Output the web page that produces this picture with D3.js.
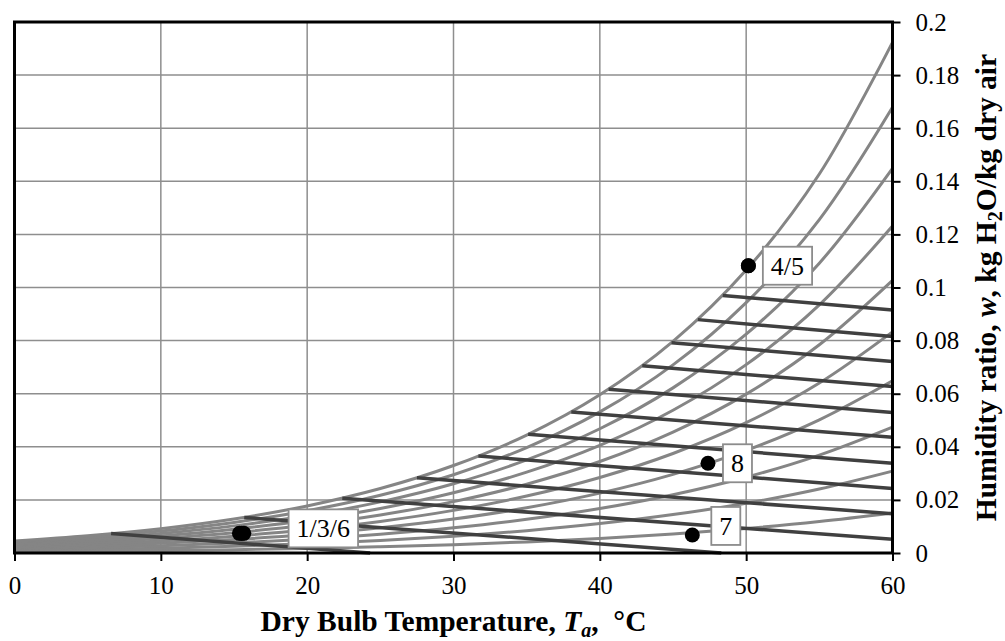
<!DOCTYPE html>
<html>
<head>
<meta charset="utf-8">
<script src="https://cdn.jsdelivr.net/npm/d3@7"></script>
<style>
  body { margin: 0; background: #fff; }
  svg text { font-family: "Liberation Serif", "Times New Roman", serif; fill: #000; }
</style>
</head>
<body>
<script>
// Dry bulb temperatures (°C) where the relative humidity curves were read
var tempSteps = [0, 5, 10, 15, 20, 25, 30, 35, 40, 45, 50, 55, 60];

// Relative humidity curves, 10 % ... 100 % (kg H2O / kg dry air)
var rhLevels = [10, 20, 30, 40, 50, 60, 70, 80, 90, 100];
var rh10  = [0.00045, 0.00064, 0.00091, 0.00126, 0.00173, 0.00234, 0.00315, 0.00418, 0.00549, 0.00715, 0.00923, 0.01183, 0.01505];
var rh20  = [0.00090, 0.00129, 0.00182, 0.00252, 0.00347, 0.00471, 0.00632, 0.00841, 0.01107, 0.01446, 0.01874, 0.02412, 0.03084];
var rh30  = [0.00135, 0.00194, 0.00273, 0.00379, 0.00521, 0.00709, 0.00953, 0.01269, 0.01676, 0.02195, 0.02854, 0.03689, 0.04743];
var rh40  = [0.00181, 0.00258, 0.00364, 0.00507, 0.00697, 0.00948, 0.01277, 0.01704, 0.02255, 0.02962, 0.03865, 0.05018, 0.06489];
var rh50  = [0.00226, 0.00323, 0.00456, 0.00635, 0.00874, 0.01190, 0.01605, 0.02145, 0.02844, 0.03747, 0.04907, 0.06402, 0.08328];
var rh60  = [0.00272, 0.00388, 0.00548, 0.00763, 0.01052, 0.01434, 0.01936, 0.02592, 0.03445, 0.04551, 0.05983, 0.07844, 0.10269];
var rh70  = [0.00317, 0.00453, 0.00640, 0.00893, 0.01230, 0.01679, 0.02270, 0.03045, 0.04056, 0.05375, 0.07094, 0.09347, 0.12319];
var rh80  = [0.00363, 0.00519, 0.00733, 0.01022, 0.01410, 0.01926, 0.02608, 0.03504, 0.04679, 0.06219, 0.08242, 0.10917, 0.14489];
var rh90  = [0.00408, 0.00584, 0.00825, 0.01152, 0.01591, 0.02175, 0.02949, 0.03970, 0.05314, 0.07085, 0.09429, 0.12557, 0.16789];
var rh100 = [0.00454, 0.00650, 0.00918, 0.01283, 0.01773, 0.02427, 0.03295, 0.04443, 0.05961, 0.07973, 0.10656, 0.14273, 0.19231];
var rhCurves = [rh10, rh20, rh30, rh40, rh50, rh60, rh70, rh80, rh90, rh100];

// Wet bulb lines: start on the saturation curve, end on the right edge or on w = 0
var wbStartT = [6.6, 15.7, 22.4, 27.5, 31.7, 35.1, 38.05, 40.6, 42.9, 44.9, 46.7, 48.4];
var wbStartW = [0.0073, 0.0134, 0.0206, 0.0283, 0.0365, 0.0447, 0.0531, 0.0617, 0.0705, 0.0792, 0.0879, 0.0970];
var wbEndT   = [24.3, 48.3, 60, 60, 60, 60, 60, 60, 60, 60, 60, 60];
var wbEndW   = [0, 0, 0.0052, 0.0148, 0.0243, 0.0338, 0.0436, 0.0529, 0.0627, 0.0721, 0.0815, 0.0915];

// State points
var stateNames = ['1', '3', '6', '4', '5', '8', '7'];
var stateT = [15.37, 15.52, 15.67, 50.15, 50.15, 47.39, 46.32];
var stateW = [0.0074, 0.0074, 0.0074, 0.1082, 0.1082, 0.0338, 0.0068];

// Data labels and the state each one is attached to
var labelText  = ['1/3/6', '4/5', '8', '7'];
var labelState = ['3', '4', '8', '7'];

// Axis ticks
var xTicks = [0, 10, 20, 30, 40, 50, 60];
var xTickLabels = ['0', '10', '20', '30', '40', '50', '60'];
var yTicks = [0, 0.02, 0.04, 0.06, 0.08, 0.1, 0.12, 0.14, 0.16, 0.18, 0.2];
var yTickLabels = ['0', '0.02', '0.04', '0.06', '0.08', '0.1', '0.12', '0.14', '0.16', '0.18', '0.2'];

var SERIF = '"Liberation Serif", "Times New Roman", Times, serif';
var WIDTH = 1005;
var HEIGHT = 641;
var LEFT = 14.5, RIGHT = 892.5, TOP = 22, BOTTOM = 553;

var svg = d3.select('body')
            .append('svg')
            .attr('width', WIDTH)
            .attr('height', HEIGHT)
            .attr('font-family', SERIF);

var x = d3.scaleLinear().domain([0, 60]).range([LEFT, RIGHT]);
var y = d3.scaleLinear().domain([0, 0.2]).range([BOTTOM, TOP]);

// grid
svg.append('g')
   .selectAll('line')
   .data(xTicks.slice(1, -1))
   .enter()
 .append('line')
   .attr('x1', function(d) { return x(d); })
   .attr('x2', function(d) { return x(d); })
   .attr('y1', TOP)
   .attr('y2', BOTTOM)
   .attr('stroke', '#8e8e8e')
   .attr('stroke-width', 1.5);

svg.append('g')
   .selectAll('line')
   .data(yTicks.slice(1, -1))
   .enter()
 .append('line')
   .attr('x1', LEFT)
   .attr('x2', RIGHT)
   .attr('y1', function(d) { return y(d); })
   .attr('y2', function(d) { return y(d); })
   .attr('stroke', '#8e8e8e')
   .attr('stroke-width', 1.5);

// relative humidity curves
var rhLine = d3.line()
               .x(function(d, i) { return x(tempSteps[i]); })
               .y(function(d) { return y(d); })
               .curve(d3.curveCatmullRom);

svg.append('g')
   .selectAll('path')
   .data(rhCurves)
   .enter()
 .append('path')
   .attr('d', rhLine)
   .attr('fill', 'none')
   .attr('stroke', '#858585')
   .attr('stroke-width', 3);

// wet bulb lines
svg.append('g')
   .selectAll('line')
   .data(wbStartT)
   .enter()
 .append('line')
   .attr('x1', function(d) { return x(d); })
   .attr('y1', function(d, i) { return y(wbStartW[i]); })
   .attr('x2', function(d, i) { return x(wbEndT[i]); })
   .attr('y2', function(d, i) { return y(wbEndW[i]); })
   .attr('stroke', '#404040')
   .attr('stroke-width', 3.5);

// frame
svg.append('rect')
   .attr('x', LEFT)
   .attr('y', TOP)
   .attr('width', RIGHT - LEFT)
   .attr('height', BOTTOM - TOP)
   .attr('fill', 'none')
   .attr('stroke', '#000')
   .attr('stroke-width', 3);

// axes
var xAxis = d3.axisBottom(x)
              .tickValues(xTicks)
              .tickFormat(function(d, i) { return xTickLabels[i]; })
              .tickSizeOuter(0)
              .tickSize(8)
              .tickPadding(15);

var gx = svg.append('g')
            .attr('transform', 'translate(0,' + BOTTOM + ')')
            .call(xAxis);

var yAxis = d3.axisRight(y)
              .tickValues(yTicks)
              .tickFormat(function(d, i) { return yTickLabels[i]; })
              .tickSizeOuter(0)
              .tickSize(8)
              .tickPadding(15);

var gy = svg.append('g')
            .attr('transform', 'translate(' + RIGHT + ',0)')
            .call(yAxis);

[gx, gy].forEach(function(g) {
  g.attr('font-family', SERIF).attr('font-size', 25);
  g.select('.domain').remove();
  g.selectAll('.tick line').attr('stroke', '#000').attr('stroke-width', 2);
  g.selectAll('.tick text')
   .attr('font-family', SERIF)
   .attr('font-size', 25)
   .attr('fill', '#000');
});

// axis titles
var xTitle = svg.append('text')
                .attr('x', (LEFT + RIGHT) / 2)
                .attr('y', 631)
                .attr('text-anchor', 'middle')
                .attr('font-size', 29.5)
                .attr('font-weight', 'bold');
xTitle.append('tspan').text('Dry Bulb Temperature, ');
xTitle.append('tspan').attr('font-style', 'italic').text('T');
xTitle.append('tspan').attr('font-style', 'italic').attr('font-size', 20).attr('dy', 6).text('a');
xTitle.append('tspan').attr('dy', -6).text(',\u00a0 °C');

var yTitle = svg.append('text')
                .attr('transform', 'translate(996,' + ((TOP + BOTTOM) / 2) + ') rotate(-90)')
                .attr('text-anchor', 'middle')
                .attr('font-size', 29.5)
                .attr('font-weight', 'bold');
yTitle.append('tspan').text('Humidity ratio, ');
yTitle.append('tspan').attr('font-style', 'italic').text('w');
yTitle.append('tspan').text(', kg H');
yTitle.append('tspan').attr('font-size', 20).attr('dy', 6).text('2');
yTitle.append('tspan').attr('dy', -6).text('O/kg dry air');

// state points
svg.append('g')
   .selectAll('circle')
   .data(stateNames)
   .enter()
 .append('circle')
   .attr('cx', function(d, i) { return x(stateT[i]); })
   .attr('cy', function(d, i) { return y(stateW[i]); })
   .attr('r', 7.5)
   .attr('fill', '#000');

// data labels (moved by hand in the original, so each keeps its own offset)
var labelShift = { '1/3/6': [47, -5], '4/5': [14.5, 0], '8': [15, 0], '7': [19, -9] };

var labels = svg.append('g')
                .selectAll('g')
                .data(labelText)
                .enter()
              .append('g');

labels.each(function(d, i) {
  var k = stateNames.indexOf(labelState[i]);
  var px = x(stateT[k]) + labelShift[d][0];
  var py = y(stateW[k]) + labelShift[d][1];
  var g = d3.select(this);
  var box = g.append('rect');
  var t = g.append('text')
           .attr('y', py)
           .attr('dy', '0.35em')
           .attr('text-anchor', 'middle')
           .attr('font-size', 26)
           .text(d);
  var w = t.node().getComputedTextLength() + 16;
  t.attr('x', px + w / 2);
  box.attr('x', px)
     .attr('y', py - 19)
     .attr('width', w)
     .attr('height', 38)
     .attr('fill', '#fff')
     .attr('stroke', '#8c8c8c')
     .attr('stroke-width', 1.8);
});
</script>
</body>
</html>
